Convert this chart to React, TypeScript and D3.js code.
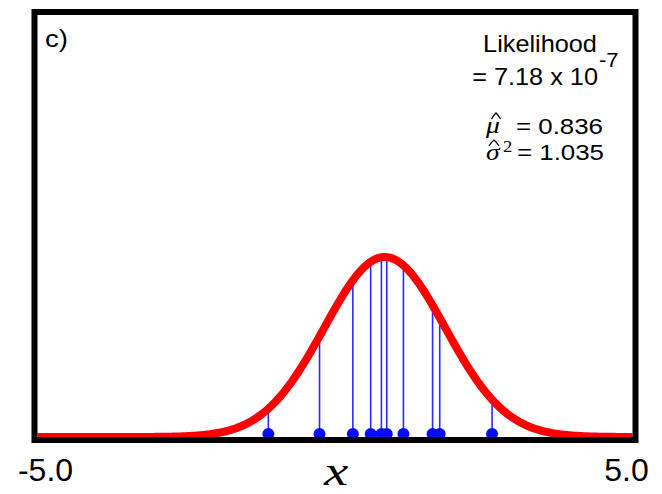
import React from 'react';
import * as d3 from 'd3';

const samples = [-1.12, -0.26, 0.30, 0.60, 0.78, 0.87, 1.15, 1.64, 1.76, 2.64];
// fitted estimates shown in the panel
const muHat = 0.836;
const sigma2Hat = 1.035;
const xDomain = [-5, 5];
const xTickValues = [-5, 5];
const xTickLabels = ['-5.0', '5.0'];
const panelLabel = 'c)';
const likelihoodMantissa = '7.18';
const likelihoodExponent = '-7';

const WIDTH = 662;
const HEIGHT = 494;
const SANS = '"Liberation Sans", Arial, sans-serif';
const SERIF = '"Liberation Serif", "Times New Roman", serif';

function normalPdf(x: number, mu: number, s2: number) {
  return Math.exp(-((x - mu) ** 2) / (2 * s2)) / Math.sqrt(2 * Math.PI * s2);
}

// text that is a little wider than the font draws it (the source figure is stretched)
function Wide(props: {
  x: number; y: number; sx?: number; size: number; anchor?: string;
  family?: string; italic?: boolean; children: React.ReactNode;
}) {
  const { x, y, sx = 1.15, size, anchor = 'start', family = SANS, italic = false } = props;
  return (
    <text
      transform={`translate(${x},${y}) scale(${sx},1)`}
      textAnchor={anchor}
      fontFamily={family}
      fontStyle={italic ? 'italic' : 'normal'}
      fontSize={size}
      fill="#000"
    >
      {props.children}
    </text>
  );
}

export default function App() {
  const frame = { left: 34.5, top: 12, right: 635.5, bottom: 440 };

  const x = d3.scaleLinear().domain(xDomain).range([frame.left + 3, frame.right - 3]);
  const peak = normalPdf(muHat, muHat, sigma2Hat);
  const y = d3.scaleLinear().domain([0, peak]).range([437, 257]);

  const grid = d3.range(xDomain[0], xDomain[1] + 0.0001, 0.025);
  const line = d3.line<number>()
    .x(d => x(d))
    .y(d => y(normalPdf(d, muHat, sigma2Hat)));

  const dotY = y(0) - 3;

  // little caret used for the "hat" accents
  const hat = (cx: number, top: number, w: number, h: number) =>
    `M${cx - w / 2},${top + h} Q${cx - w / 4},${top + h * 0.35} ${cx},${top} Q${cx + w / 4},${top + h * 0.35} ${cx + w / 2},${top + h}`;

  return (
    <svg width={WIDTH} height={HEIGHT} style={{ position: 'absolute', left: 0, top: 0, background: '#fff' }}>
      <rect x={0} y={0} width={WIDTH} height={HEIGHT} fill="#fff" />

      {/* stems */}
      {samples.map((s, i) => (
        <line
          key={'stem' + i}
          x1={x(s)}
          x2={x(s)}
          y1={dotY}
          y2={y(normalPdf(s, muHat, sigma2Hat))}
          stroke="#2a2aff"
          strokeWidth={1.6}
        />
      ))}

      {/* fitted density */}
      <path d={line(grid) || ''} fill="none" stroke="#ff0000" strokeWidth={8} strokeLinejoin="round" />

      {/* sample points */}
      {samples.map((s, i) => (
        <circle key={'pt' + i} cx={x(s)} cy={dotY} r={6} fill="#0a0aff" />
      ))}

      {/* frame */}
      <rect
        x={frame.left}
        y={frame.top}
        width={frame.right - frame.left}
        height={frame.bottom - frame.top}
        fill="none"
        stroke="#000"
        strokeWidth={6}
      />

      <Wide x={45} y={47} size={24}>{panelLabel}</Wide>

      {/* likelihood */}
      <Wide x={540} y={52} size={23} sx={1.1} anchor="middle">Likelihood</Wide>
      <Wide x={598} y={85} size={23} sx={1.1} anchor="end">{'= ' + likelihoodMantissa + ' x 10'}</Wide>
      <Wide x={599} y={67} size={20} sx={1.1}>{likelihoodExponent}</Wide>

      {/* estimates */}
      <Wide x={486} y={133} size={24} family={SERIF} italic sx={1.15}>μ</Wide>
      <path d={hat(496, 113, 9, 6)} fill="none" stroke="#000" strokeWidth={1.3} />
      <Wide x={603} y={133.5} size={22.5} anchor="end">{'= ' + muHat.toFixed(3)}</Wide>

      <Wide x={486} y={160} size={24} family={SERIF} italic sx={1.15}>σ</Wide>
      <path d={hat(494, 140, 10, 6)} fill="none" stroke="#000" strokeWidth={1.3} />
      <Wide x={503} y={152} size={17} family={SERIF} sx={1.1}>2</Wide>
      <Wide x={604} y={160} size={22.5} anchor="end">{'= ' + sigma2Hat.toFixed(3)}</Wide>

      {/* x tick labels */}
      {xTickValues.map((v, i) => (
        <text
          key={'tick' + i}
          x={x(v) + (v < 0 ? 8 : -6)}
          y={481}
          textAnchor="middle"
          fontFamily={SANS}
          fontSize={32}
          fill="#000"
        >
          {xTickLabels[i]}
        </text>
      ))}

      <Wide x={336} y={485} size={42} sx={1.3} anchor="middle" family={SERIF} italic>x</Wide>
    </svg>
  );
}
